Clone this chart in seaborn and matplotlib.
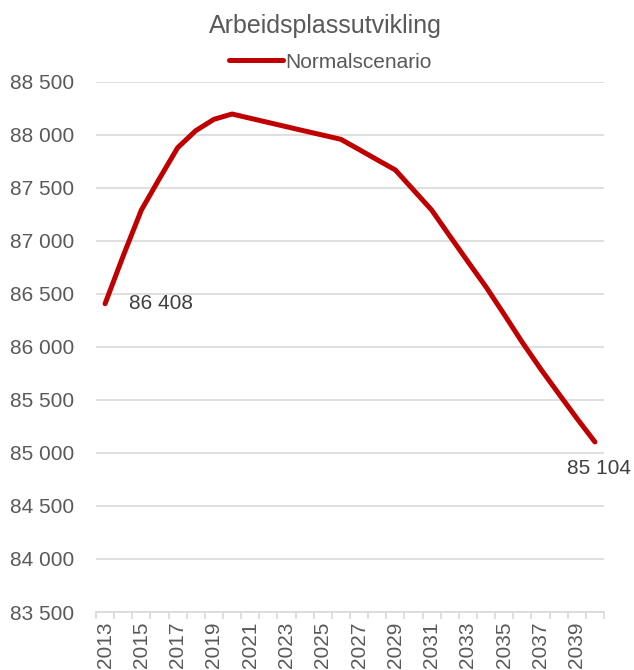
import matplotlib
matplotlib.use("Agg")
import matplotlib.pyplot as plt
from matplotlib.ticker import FuncFormatter, MultipleLocator
import seaborn as sns
import pandas as pd

years = list(range(2013, 2041))
jobs = [86408, 86860, 87292, 87590, 87880, 88041, 88148, 88198,
        88158, 88118, 88078, 88038, 87999, 87959, 87863, 87766,
        87670, 87481, 87292, 87047, 86805, 86566, 86307, 86043,
        85795, 85560, 85328, 85104]
series_name = "Normalscenario"
title = "Arbeidsplassutvikling"

df = pd.DataFrame({"år": years, "arbeidsplasser": jobs, "scenario": series_name})

sns.set_style("white")
plt.rcParams["font.family"] = ["Liberation Sans", "DejaVu Sans"]

grey = "#595959"
gridc = "#d9d9d9"
red = "#c00000"

fig = plt.figure(figsize=(6.34, 6.70), dpi=100)
ax = fig.add_axes([96 / 634, 1 - 612 / 670, (604 - 96) / 634, (612 - 82) / 670])

sns.lineplot(data=df, x="år", y="arbeidsplasser", hue="scenario",
             palette=[red], linewidth=3.6, ax=ax, legend=False,
             solid_capstyle="round")

ax.set_xlim(years[0] - 0.5, years[-1] + 0.5)
ax.set_ylim(83500, 88500)
ax.yaxis.set_major_locator(MultipleLocator(500))
ax.yaxis.set_major_formatter(FuncFormatter(lambda v, p: f"{int(v):,}".replace(",", " ")))
ax.grid(axis="y", color=gridc, linewidth=1.2)
ax.set_axisbelow(True)

ax.set_xticks(years[::2])
ax.set_xticklabels([str(y) for y in years[::2]], rotation=90)
ax.set_xticks([y - 0.5 for y in years] + [years[-1] + 0.5], minor=True)
ax.tick_params(axis="x", which="major", bottom=True, length=0, pad=7,
               labelsize=15, labelcolor=grey)
ax.tick_params(axis="x", which="minor", bottom=True, length=5, color=gridc,
               width=1.2, direction="out")
ax.tick_params(axis="y", length=0, pad=16, labelsize=15, labelcolor=grey)
ax.set_xlabel("")
ax.set_ylabel("")

for side in ["top", "right", "left"]:
    ax.spines[side].set_visible(False)
ax.spines["bottom"].set_color(gridc)
ax.spines["bottom"].set_linewidth(1.2)

# etiketter på første og siste punkt
ax.annotate(f"{jobs[0]:,}".replace(",", " "), (years[0], jobs[0]),
            xytext=(17, 0), textcoords="offset points", ha="left", va="center",
            fontsize=15, color="#404040")
ax.annotate(f"{jobs[-1]:,}".replace(",", " "), (years[-1], jobs[-1]),
            xytext=(3, -19), textcoords="offset points", ha="center", va="center",
            fontsize=15, color="#404040", annotation_clip=False)

fig.text(325 / 634, 1 - 26 / 670, title, ha="center", va="center",
         fontsize=18, color=grey)

handle = plt.Line2D([], [], color=red, linewidth=3.6, solid_capstyle="round")
fig.legend([handle], [series_name], loc="center", bbox_to_anchor=(0.521, 1 - 62 / 670),
           frameon=False, fontsize=15, handlelength=2.6, handletextpad=0.1,
           borderpad=0, labelcolor=grey)

fig.savefig("out.png", dpi=100)
plt.close(fig)
